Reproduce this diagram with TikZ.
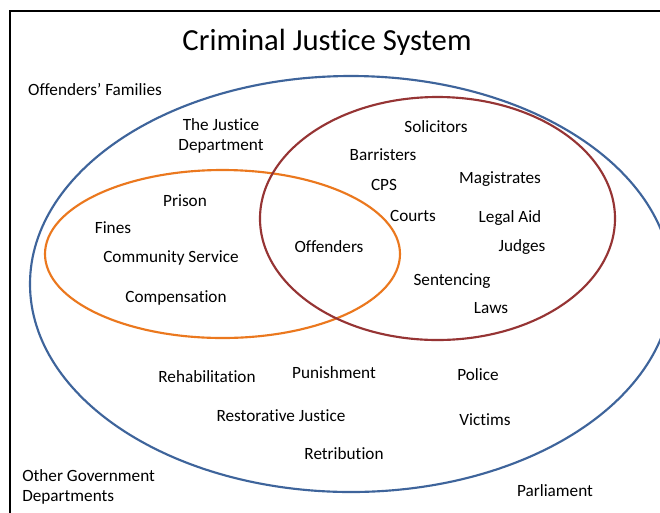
\documentclass[tikz,border=0pt]{standalone}
\usepackage{fontspec}
\setmainfont{Carlito}[Ligatures={TeX,NoCommon}]
\definecolor{cjsblue}{RGB}{62,100,155}
\definecolor{cjsorange}{RGB}{235,120,30}
\definecolor{cjsred}{RGB}{150,52,52}
\begin{document}
\begin{tikzpicture}[x=0.75pt,y=-0.75pt,
  lbl/.style={font=\fontsize{12.9pt}{15.5pt}\selectfont, inner sep=0pt, align=center},
  ring/.style={line width=1.6pt}]
\clip (0,0) rectangle (660,512);
\fill[white] (0,0) rectangle (660,512);
\draw[line width=1.3pt] (10,11) rectangle (680,530);
\draw[ring, cjsblue] (351,284) ellipse [x radius=321, y radius=208];
\draw[ring, cjsorange] (222.5,254) ellipse [x radius=177.5, y radius=84];
\draw[ring, cjsred] (437.5,218.5) ellipse [x radius=177.5, y radius=121.5];
\node[lbl, font=\fontsize{23pt}{27pt}\selectfont] (title) at (327,42) {Criminal Justice System};
\node[lbl] (fam) at (95,89) {Offenders’ Families};
\node[lbl] (jd) at (221,136) {The Justice\\Department};
\node[lbl] (sol) at (436,127) {Solicitors};
\node[lbl] (bar) at (383,155) {Barristers};
\node[lbl] (cps) at (384,185) {CPS};
\node[lbl] (mag) at (500,179) {Magistrates};
\node[lbl] (cou) at (413,216) {Courts};
\node[lbl] (leg) at (510,218) {Legal Aid};
\node[lbl] (jud) at (522,247) {Judges};
\node[lbl] (sen) at (452,281) {Sentencing};
\node[lbl] (law) at (491,308) {Laws};
\node[lbl] (pri) at (185,201) {Prison};
\node[lbl] (fin) at (113,228) {Fines};
\node[lbl] (com) at (171,258) {Community Service};
\node[lbl] (off) at (329,247) {Offenders};
\node[lbl] (cmp) at (176,298) {Compensation};
\node[lbl] (reh) at (207,377) {Rehabilitation};
\node[lbl] (pun) at (334,373) {Punishment};
\node[lbl] (pol) at (478,375) {Police};
\node[lbl] (res) at (281,416) {Restorative Justice};
\node[lbl] (vic) at (485,420) {Victims};
\node[lbl] (ret) at (344,454) {Retribution};
\node[lbl, align=left, anchor=west] (ogd) at (22,487) {Other Government\\Departments};
\node[lbl] (par) at (555,491) {Parliament};
\end{tikzpicture}
\end{document}
